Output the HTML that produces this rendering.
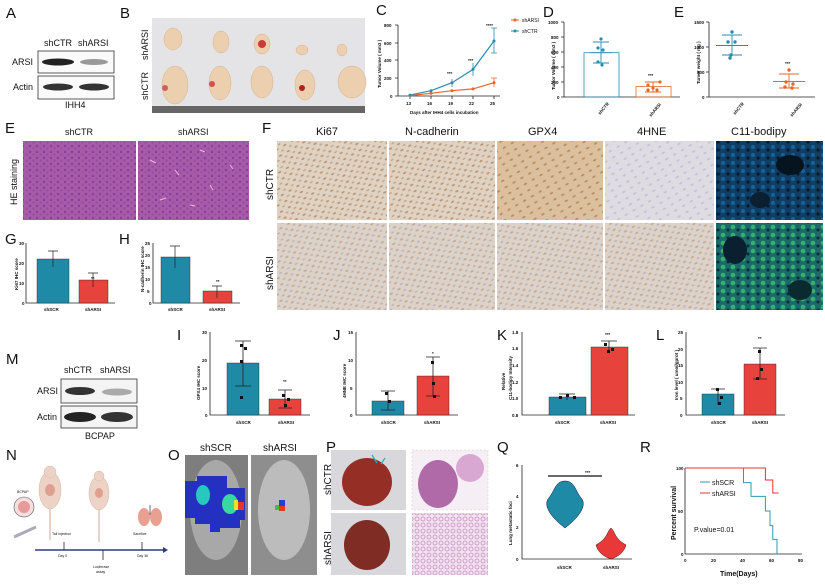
<!DOCTYPE html>
<html><head><meta charset="utf-8"><style>
html,body{margin:0;padding:0;background:#fff}
svg{display:block}
text{font-family:"Liberation Sans",Arial,sans-serif;fill:#111}
.L{font-size:15px}
.t{font-size:9px}
.s{font-size:4.5px;font-weight:bold}
.a{stroke:#222;stroke-width:0.8;fill:none}
</style></head><body>
<svg width="825" height="588" viewBox="0 0 825 588" xmlns="http://www.w3.org/2000/svg">
<defs>
<pattern id="he" width="7" height="6" patternUnits="userSpaceOnUse">
<rect width="7" height="6" fill="#a65aa8"/><circle cx="2" cy="2" r="1.2" fill="#84409a"/><circle cx="5.5" cy="4.5" r="1" fill="#8e4a9c"/></pattern>
<pattern id="ihc" width="9" height="7" patternUnits="userSpaceOnUse" patternTransform="rotate(-30)">
<rect width="9" height="7" fill="#e0d2c2"/><ellipse cx="3" cy="2" rx="1.8" ry="0.9" fill="#b89272"/><ellipse cx="7.5" cy="5.5" rx="1.6" ry="0.8" fill="#c2a286"/></pattern>
<pattern id="ihc2" width="9" height="7" patternUnits="userSpaceOnUse" patternTransform="rotate(-30)">
<rect width="9" height="7" fill="#ddd2c8"/><ellipse cx="3" cy="2" rx="1.8" ry="0.9" fill="#c0a892"/><ellipse cx="7.5" cy="5.5" rx="1.6" ry="0.8" fill="#b8b0c4"/></pattern>
<pattern id="gpx" width="9" height="7" patternUnits="userSpaceOnUse" patternTransform="rotate(-30)">
<rect width="9" height="7" fill="#dcbf9c"/><ellipse cx="3" cy="2" rx="1.8" ry="0.9" fill="#b48a60"/></pattern>
<pattern id="hne" width="9" height="7" patternUnits="userSpaceOnUse" patternTransform="rotate(-30)">
<rect width="9" height="7" fill="#dedbe2"/><ellipse cx="3" cy="2" rx="1.8" ry="0.9" fill="#c4c0d4"/></pattern>
<pattern id="c11" width="10" height="8" patternUnits="userSpaceOnUse">
<rect width="10" height="8" fill="#0f3f66"/><circle cx="3" cy="3" r="2" fill="#1a6296"/><circle cx="8" cy="6" r="1.6" fill="#07182a"/></pattern>
<pattern id="c11b" width="10" height="8" patternUnits="userSpaceOnUse">
<rect width="10" height="8" fill="#1a6a6a"/><circle cx="3" cy="3" r="2.3" fill="#36b06a"/><circle cx="8" cy="6" r="1.5" fill="#0a2a3a"/></pattern>
<pattern id="lungh" width="6" height="6" patternUnits="userSpaceOnUse">
<rect width="6" height="6" fill="#f1e2ee"/><circle cx="3" cy="3" r="2" fill="none" stroke="#c890c4" stroke-width="0.8"/></pattern>
</defs>

<!-- A -->
<text class="L" x="6" y="18">A</text>
<text class="t" x="44" y="46">shCTR</text><text class="t" x="78" y="46">shARSI</text>
<rect x="38" y="51" width="76" height="22" fill="#fafafa" stroke="#333" stroke-width="0.8"/>
<rect x="38" y="76" width="76" height="23" fill="#fafafa" stroke="#333" stroke-width="0.8"/>
<ellipse cx="58" cy="62" rx="16" ry="3.5" fill="#222"/><ellipse cx="94" cy="62" rx="14" ry="3" fill="#999"/>
<ellipse cx="58" cy="87" rx="15" ry="3.5" fill="#333"/><ellipse cx="94" cy="87" rx="15" ry="3.5" fill="#333"/>
<text class="t" x="12" y="65">ARSI</text><text class="t" x="13" y="90">Actin</text>
<text class="t" x="65" y="108">IHH4</text>

<!-- B -->
<text class="L" x="120" y="18">B</text>
<rect x="152" y="18" width="213" height="95" fill="#e4e4e7"/>
<rect x="152" y="106" width="213" height="7" fill="#666"/>
<g fill="#eccfae" stroke="#d8b08a" stroke-width="0.5">
<ellipse cx="173" cy="39" rx="9" ry="11"/><ellipse cx="221" cy="42" rx="8" ry="11"/><ellipse cx="262" cy="44" rx="8" ry="10"/><ellipse cx="302" cy="50" rx="6" ry="5"/><ellipse cx="342" cy="50" rx="5" ry="6"/>
<ellipse cx="175" cy="85" rx="13" ry="19"/><ellipse cx="220" cy="83" rx="11" ry="17"/><ellipse cx="262" cy="82" rx="11" ry="16"/><ellipse cx="305" cy="85" rx="10" ry="15"/><ellipse cx="352" cy="82" rx="14" ry="16"/></g>
<circle cx="262" cy="44" r="4" fill="#c93a3a"/><circle cx="302" cy="88" r="3" fill="#b02020"/><circle cx="212" cy="84" r="3" fill="#d65050"/><circle cx="165" cy="88" r="3" fill="#d06060"/>
<text class="t" transform="translate(148,60) rotate(-90)">shARSI</text>
<text class="t" transform="translate(148,100) rotate(-90)">shCTR</text>

<!-- C -->
<text class="L" x="376" y="15">C</text>
<path class="a" d="M398,25V96H500"/>
<g class="a"><path d="M395,25h3M395,43h3M395,60h3M395,78h3M395,96h3M410,96v3M431,96v3M452,96v3M473,96v3M494,96v3"/></g>
<g class="s"><text x="384" y="27">800</text><text x="384" y="45">600</text><text x="384" y="62">400</text><text x="384" y="80">200</text><text x="390" y="98">0</text>
<text x="406" y="105">13</text><text x="427" y="105">16</text><text x="448" y="105">19</text><text x="469" y="105">22</text><text x="490" y="105">25</text>
<text x="410" y="114">Days after IHH4 cells incubation</text>
<text transform="translate(381,88) rotate(-90)">Tumor Volume ( mm3 )</text>
<text x="447" y="75">***</text><text x="468" y="62">***</text><text x="486" y="27">****</text></g>
<polyline points="410,95.1 431,90.7 452,82.7 473,69.4 494,41" fill="none" stroke="#2a8bb0" stroke-width="1.2"/>
<polyline points="410,95.6 431,93.3 452,90.7 473,88.9 494,82.7" fill="none" stroke="#e8662a" stroke-width="1.2"/>
<g stroke="#2a8bb0" stroke-width="0.8"><path d="M452,79v8M473,63v13M494,28v25M491,28h6M491,53h6"/></g>
<g stroke="#e8662a" stroke-width="0.8"><path d="M494,78v9M491,78h6"/></g>
<g fill="#2a8bb0"><circle cx="410" cy="95.1" r="1.5"/><circle cx="431" cy="90.7" r="1.5"/><circle cx="452" cy="82.7" r="1.5"/><circle cx="473" cy="69.4" r="1.5"/><circle cx="494" cy="41" r="1.5"/></g>
<g fill="#e8662a"><circle cx="431" cy="93.3" r="1.5"/><circle cx="452" cy="90.7" r="1.5"/><circle cx="473" cy="88.9" r="1.5"/><circle cx="494" cy="82.7" r="1.5"/></g>
<path d="M511,20h8" stroke="#e8662a" stroke-width="1"/><circle cx="515" cy="20" r="1.5" fill="#e8662a"/>
<path d="M511,31h8" stroke="#2a8bb0" stroke-width="1"/><circle cx="515" cy="31" r="1.5" fill="#2a8bb0"/>
<text class="s" x="522" y="22" style="font-weight:normal;font-size:5px">shARSI</text><text class="s" x="522" y="33" style="font-weight:normal;font-size:5px">shCTR</text>

<!-- D -->
<text class="L" x="543" y="17">D</text>
<path class="a" d="M564,22V97H680"/>
<g class="a"><path d="M561,22h3M561,37h3M561,52h3M561,67h3M561,82h3M561,97h3"/></g>
<g class="s"><text x="548" y="24">1000</text><text x="551" y="39">800</text><text x="551" y="54">600</text><text x="551" y="69">400</text><text x="551" y="84">200</text><text x="557" y="99">0</text>
<text transform="translate(555,90) rotate(-90)">Tumor Volume ( mm3 )</text>
<text transform="translate(600,115) rotate(-50)">shCTR</text><text transform="translate(651,117) rotate(-50)">shARSI</text>
<text x="648" y="77">***</text></g>
<rect x="584" y="52.7" width="35" height="44.3" fill="none" stroke="#2a8bb0" stroke-width="0.8"/>
<rect x="636" y="86.5" width="35" height="10.5" fill="none" stroke="#e8662a" stroke-width="0.8"/>
<g stroke="#2a8bb0" stroke-width="0.9"><path d="M601,42v21M593,42h16M593,63h16M590,52.7h22"/></g>
<g fill="#2a8bb0"><circle cx="601" cy="39" r="1.6"/><circle cx="598" cy="48" r="1.6"/><circle cx="603" cy="50" r="1.6"/><circle cx="598" cy="62" r="1.6"/><circle cx="602" cy="65" r="1.6"/></g>
<g stroke="#e8662a" stroke-width="0.9"><path d="M653,82v10M645,82h16M645,92h16"/></g>
<g fill="#e8662a"><circle cx="660" cy="82" r="1.6"/><circle cx="648" cy="85" r="1.6"/><circle cx="653" cy="88" r="1.6"/><circle cx="657" cy="90" r="1.6"/><circle cx="648" cy="90" r="1.6"/></g>

<!-- E weight -->
<text class="L" x="674" y="17">E</text>
<path class="a" d="M709,22V97H815"/>
<g class="a"><path d="M706,22h3M706,47h3M706,72h3M706,97h3"/></g>
<g class="s"><text x="694" y="24">1500</text><text x="694" y="49">1000</text><text x="697" y="74">500</text><text x="702" y="99">0</text>
<text transform="translate(700,84) rotate(-90)">Tumor weight ( mg )</text>
<text transform="translate(735,115) rotate(-50)">shCTR</text><text transform="translate(792,117) rotate(-50)">shARSI</text>
<text x="785" y="65">***</text></g>
<g stroke="#2a8bb0" stroke-width="0.9"><path d="M732,35v20M722,35h20M722,55h20M716,45.5h32"/></g>
<g fill="#2a8bb0"><circle cx="732" cy="32" r="1.7"/><circle cx="728" cy="42" r="1.7"/><circle cx="735" cy="42" r="1.7"/><circle cx="731" cy="55" r="1.7"/><circle cx="730" cy="58" r="1.7"/></g>
<g stroke="#e8662a" stroke-width="0.9"><path d="M789,74v14M779,74h20M779,88h20M773,81.5h32"/></g>
<g fill="#e8662a"><circle cx="789" cy="70" r="1.7"/><circle cx="786" cy="82" r="1.7"/><circle cx="793" cy="84" r="1.7"/><circle cx="785" cy="87" r="1.7"/><circle cx="792" cy="88" r="1.7"/></g>

<!-- E HE -->
<text class="L" x="5" y="133">E</text>
<text class="t" x="65" y="135">shCTR</text><text class="t" x="178" y="135">shARSI</text>
<rect x="23" y="141" width="113" height="79" fill="url(#he)"/>
<rect x="138" y="141" width="111" height="79" fill="url(#he)"/>
<g stroke="#f2b8d8" stroke-width="1" fill="none"><path d="M150,160l6,3M175,170l4,5M200,150l5,2M210,185l3,5M160,200l6,-2M230,165l3,4M190,205l5,1"/></g>
<text class="t" transform="translate(17,205) rotate(-90)">HE staining</text>

<!-- F -->
<text class="L" x="262" y="133">F</text>
<g class="t" style="font-size:11px"><text x="316" y="135">Ki67</text><text x="405" y="135">N-cadherin</text><text x="528" y="135">GPX4</text><text x="637" y="135">4HNE</text><text x="731" y="135">C11-bodipy</text></g>
<rect x="277" y="141" width="110" height="79" fill="url(#ihc)"/>
<rect x="389" y="141" width="106" height="79" fill="url(#ihc)"/>
<rect x="497" y="141" width="106" height="79" fill="url(#gpx)"/>
<rect x="605" y="141" width="109" height="79" fill="url(#hne)"/>
<rect x="716" y="141" width="107" height="79" fill="url(#c11)"/>
<ellipse cx="790" cy="165" rx="14" ry="10" fill="#061420"/><ellipse cx="760" cy="200" rx="10" ry="8" fill="#0a2030"/>
<rect x="277" y="223" width="110" height="87" fill="url(#ihc2)"/>
<rect x="389" y="223" width="106" height="87" fill="url(#ihc2)"/>
<rect x="497" y="223" width="106" height="87" fill="url(#ihc2)"/>
<rect x="605" y="223" width="109" height="87" fill="url(#ihc2)"/>
<rect x="716" y="223" width="107" height="87" fill="url(#c11b)"/>
<ellipse cx="735" cy="250" rx="12" ry="14" fill="#0a2030"/><ellipse cx="800" cy="290" rx="12" ry="10" fill="#0a2a30"/>
<text class="t" style="font-size:10px" transform="translate(273,200) rotate(-90)">shCTR</text>
<text class="t" style="font-size:10px" transform="translate(273,290) rotate(-90)">shARSI</text>

<!-- G -->
<text class="L" x="5" y="244">G</text>
<path class="a" d="M26,243V303H115"/>
<g class="s"><text x="19" y="245">30</text><text x="19" y="265">20</text><text x="19" y="285">10</text><text x="22" y="305">0</text>
<text x="44" y="311">shSCR</text><text x="85" y="311">shARSI</text>
<text transform="translate(18,290) rotate(-90)">Ki67 IHC score</text><text x="91" y="280">**</text></g>
<rect x="37" y="259" width="32" height="44" fill="#1f8aa5" stroke="#222" stroke-width="0.4"/>
<rect x="79" y="280" width="29" height="23" fill="#e8423c" stroke="#222" stroke-width="0.4"/>
<path d="M53,251v16M48,251h10M93,273v14M88,273h10" stroke="#222" stroke-width="0.7"/>

<!-- H -->
<text class="L" x="119" y="244">H</text>
<path class="a" d="M153,243V303H240"/>
<g class="s"><text x="145" y="245">25</text><text x="145" y="257">20</text><text x="145" y="269">15</text><text x="145" y="281">10</text><text x="147" y="293">5</text><text x="149" y="305">0</text>
<text x="168" y="311">shSCR</text><text x="209" y="311">shARSI</text>
<text transform="translate(144,292) rotate(-90)">N-cadherin IHC score</text><text x="216" y="283">**</text></g>
<rect x="161" y="257" width="29" height="46" fill="#1f8aa5" stroke="#222" stroke-width="0.4"/>
<rect x="203" y="291" width="29" height="12" fill="#e8423c" stroke="#222" stroke-width="0.4"/>
<path d="M175,246v22M170,246h10M217,286v12M212,286h10" stroke="#222" stroke-width="0.7"/>

<!-- M -->
<text class="L" x="6" y="364">M</text>
<text class="t" x="64" y="373">shCTR</text><text class="t" x="100" y="373">shARSI</text>
<rect x="61" y="379" width="76" height="24" fill="#f4f4f4" stroke="#333" stroke-width="0.8"/>
<rect x="61" y="406" width="76" height="22" fill="#f4f4f4" stroke="#333" stroke-width="0.8"/>
<ellipse cx="80" cy="391" rx="15" ry="4" fill="#333"/><ellipse cx="117" cy="392" rx="15" ry="3.5" fill="#aaa"/>
<ellipse cx="80" cy="417" rx="16" ry="5" fill="#222"/><ellipse cx="117" cy="417" rx="16" ry="5" fill="#333"/>
<text class="t" x="37" y="394">ARSI</text><text class="t" x="37" y="420">Actin</text>
<text class="t" x="85" y="439">BCPAP</text>

<!-- I -->
<text class="L" x="177" y="340">I</text>
<path class="a" d="M210,332V415H310"/>
<g class="s"><text x="202" y="334">30</text><text x="202" y="362">20</text><text x="202" y="390">10</text><text x="205" y="417">0</text>
<text x="236" y="424">shSCR</text><text x="278" y="424">shARSI</text>
<text transform="translate(200,400) rotate(-90)">GPX4 IHC score</text><text x="283" y="383">**</text></g>
<rect x="227" y="363" width="32" height="52" fill="#1f8aa5" stroke="#222" stroke-width="0.4"/>
<rect x="269" y="399" width="32" height="16" fill="#e8423c" stroke="#222" stroke-width="0.4"/>
<path d="M243,341v45M235,341h16M235,386h16M285,390v18M278,390h14M278,408h14" stroke="#222" stroke-width="0.8"/>
<g fill="#111"><rect x="240" y="344" width="3" height="3"/><rect x="244" y="347" width="3" height="3"/><rect x="240" y="360" width="3" height="3"/><rect x="240" y="396" width="3" height="3"/><rect x="282" y="394" width="3" height="3"/><rect x="287" y="398" width="3" height="3"/><rect x="284" y="404" width="3" height="3"/></g>

<!-- J -->
<text class="L" x="333" y="340">J</text>
<path class="a" d="M356,332V415H458"/>
<g class="s"><text x="348" y="334">15</text><text x="348" y="362">10</text><text x="350" y="390">5</text><text x="350" y="417">0</text>
<text x="381" y="424">shSCR</text><text x="424" y="424">shARSI</text>
<text transform="translate(346,398) rotate(-90)">4HNE IHC score</text><text x="432" y="355">*</text></g>
<rect x="372" y="401" width="32" height="14" fill="#1f8aa5" stroke="#222" stroke-width="0.4"/>
<rect x="417" y="376" width="32" height="39" fill="#e8423c" stroke="#222" stroke-width="0.4"/>
<path d="M388,391v19M381,391h14M381,410h14M433,357v39M426,357h14M426,396h14" stroke="#222" stroke-width="0.8"/>
<g fill="#111"><rect x="385" y="392" width="3" height="3"/><rect x="388" y="400" width="3" height="3"/><rect x="431" y="361" width="3" height="3"/><rect x="432" y="382" width="3" height="3"/><rect x="433" y="395" width="3" height="3"/></g>

<!-- K -->
<text class="L" x="497" y="340">K</text>
<path class="a" d="M522,332V415H635"/>
<g class="s"><text x="512" y="334">1.8</text><text x="512" y="350">1.6</text><text x="512" y="367">1.4</text><text x="512" y="384">1.2</text><text x="512" y="400">1.0</text><text x="512" y="417">0.8</text>
<text x="555" y="424">shSCR</text><text x="600" y="424">shARSI</text>
<text transform="translate(505,390) rotate(-90)">Relative</text><text transform="translate(512,400) rotate(-90)">C11-bodipy Intensity</text><text x="605" y="336">***</text></g>
<rect x="549" y="397" width="37" height="18" fill="#1f8aa5" stroke="#222" stroke-width="0.4"/>
<rect x="591" y="347" width="37" height="68" fill="#e8423c" stroke="#222" stroke-width="0.4"/>
<path d="M567,394v6M559,394h16M609,341v11M601,341h16" stroke="#222" stroke-width="0.8"/>
<g fill="#111"><rect x="559" y="396" width="3" height="3"/><rect x="566" y="394" width="3" height="3"/><rect x="573" y="396" width="3" height="3"/><rect x="604" y="343" width="3" height="3"/><rect x="611" y="348" width="3" height="3"/><rect x="607" y="350" width="3" height="3"/></g>

<!-- L -->
<text class="L" x="656" y="340">L</text>
<path class="a" d="M686,332V415H785"/>
<g class="s"><text x="678" y="334">25</text><text x="678" y="351">20</text><text x="678" y="367">15</text><text x="678" y="384">10</text><text x="680" y="400">5</text><text x="680" y="417">0</text>
<text x="711" y="424">shSCR</text><text x="752" y="424">shARSI</text>
<text transform="translate(678,400) rotate(-90)">Iron level ( umol/gprot )</text><text x="758" y="340">**</text></g>
<rect x="702" y="394" width="32" height="21" fill="#1f8aa5" stroke="#222" stroke-width="0.4"/>
<rect x="744" y="364" width="32" height="51" fill="#e8423c" stroke="#222" stroke-width="0.4"/>
<path d="M718,389v16M711,389h14M760,348v31M753,348h14M753,379h14" stroke="#222" stroke-width="0.8"/>
<g fill="#111"><rect x="716" y="388" width="3" height="3"/><rect x="720" y="396" width="3" height="3"/><rect x="718" y="402" width="3" height="3"/><rect x="758" y="350" width="3" height="3"/><rect x="760" y="368" width="3" height="3"/><rect x="756" y="377" width="3" height="3"/></g>

<!-- N -->
<text class="L" x="6" y="460">N</text>
<g fill="#edd2c6" stroke="#d8b5a8" stroke-width="0.5">
<ellipse cx="50" cy="490" rx="11" ry="19"/><ellipse cx="50" cy="472" rx="6" ry="6"/>
<ellipse cx="99" cy="493" rx="10" ry="17"/><ellipse cx="99" cy="476" rx="5" ry="5"/></g>
<path d="M50,509v31M99,510v32" stroke="#d8b5a8" stroke-width="1.2"/>
<ellipse cx="50" cy="490" rx="5" ry="6" fill="#e0a090"/><ellipse cx="99" cy="493" rx="4" ry="5" fill="#e0a090"/>
<circle cx="24" cy="507" r="10" fill="#f7dede" stroke="#555" stroke-width="0.6"/><circle cx="24" cy="507" r="6" fill="#e89a9a"/>
<text x="17" y="493" style="font-size:3.5px">BCPAP</text>
<path d="M14,537l22,-10" stroke="#aab" stroke-width="3"/>
<ellipse cx="144" cy="517" rx="6" ry="9" fill="#e9a090"/><ellipse cx="156" cy="517" rx="6" ry="9" fill="#e9a090"/>
<path d="M150,505v10" stroke="#446" stroke-width="0.8"/>
<path d="M35,550H163" stroke="#2c3e7a" stroke-width="1.5"/><path d="M163,547l5,3l-5,3z" fill="#2c3e7a"/>
<path d="M64,542v8M103,550v10M142,542v8" stroke="#223" stroke-width="0.8"/>
<g style="font-size:3.5px"><text x="52" y="535">Tail injection</text><text x="133" y="535">Sacrifice</text><text x="58" y="557">Day 0</text><text x="137" y="557">Day 36</text><text x="93" y="568">Luciferase</text><text x="96" y="573">assay</text></g>

<!-- O -->
<text class="L" x="168" y="460">O</text>
<text class="t" style="font-size:10px" x="200" y="451">shSCR</text><text class="t" style="font-size:10px" x="263" y="451">shARSI</text>
<rect x="185" y="455" width="63" height="120" fill="#7e7e7e"/>
<rect x="251" y="455" width="66" height="120" fill="#8e8e8e"/>
<ellipse cx="216" cy="510" rx="26" ry="50" fill="#a8a8a8"/><ellipse cx="284" cy="510" rx="26" ry="50" fill="#bcbcbc"/>
<path d="M185,481h12v-5h30v12h18v32h-5v8h-20v4h-10v-8h-15v-6h-10z" fill="#2430c0"/>
<ellipse cx="203" cy="495" rx="7" ry="10" fill="#28c8c0"/><ellipse cx="230" cy="504" rx="8" ry="10" fill="#38d8a0"/>
<rect x="238" y="502" width="6" height="8" fill="#e83820"/><rect x="234" y="500" width="4" height="10" fill="#f0e020"/>
<rect x="279" y="500" width="6" height="6" fill="#2040d0"/><rect x="279" y="506" width="6" height="5" fill="#e83820"/><rect x="275" y="505" width="4" height="5" fill="#40c040"/>

<!-- P -->
<text class="L" x="326" y="452">P</text>
<rect x="331" y="450" width="75" height="60" fill="#d8d8dc"/>
<rect x="331" y="513" width="75" height="62" fill="#d8d8dc"/>
<ellipse cx="367" cy="482" rx="25" ry="24" fill="#952e24"/><ellipse cx="367" cy="545" rx="23" ry="25" fill="#7e2c24"/>
<path d="M372,455l5,8M385,458l-4,6" stroke="#2ab0c0" stroke-width="1.3"/>
<rect x="412" y="450" width="76" height="60" fill="#f6eef5" stroke="#ccc" stroke-dasharray="2,2" stroke-width="0.5"/>
<ellipse cx="438" cy="484" rx="20" ry="24" fill="#b06aa8"/><ellipse cx="470" cy="468" rx="14" ry="14" fill="#d9a8d2"/>
<rect x="412" y="513" width="76" height="62" fill="url(#lungh)"/>
<text class="t" style="font-size:10px" transform="translate(331,495) rotate(-90)">shCTR</text>
<text class="t" style="font-size:10px" transform="translate(331,565) rotate(-90)">shARSI</text>

<!-- Q -->
<text class="L" x="497" y="452">Q</text>
<path class="a" d="M522,465V559H632"/>
<g class="s"><text x="516" y="467">6</text><text x="516" y="498">4</text><text x="516" y="529">2</text><text x="516" y="561">0</text>
<text x="557" y="569">shSCR</text><text x="603" y="569">shARSI</text>
<text transform="translate(512,545) rotate(-90)">Lung metastatic foci</text><text x="585" y="474">***</text></g>
<path d="M548,476H602" stroke="#111" stroke-width="1.2"/>
<path d="M565,481c10,0 10,10 17,18c5,8 -5,20 -17,29c-12,-9 -22,-21 -17,-29c7,-8 7,-18 17,-18z" fill="#1f8aa5" stroke="#114" stroke-width="0.5"/>
<path d="M611,528c5,5 3,10 15,17c-2,8 -9,12 -15,14c-6,-2 -13,-6 -15,-14c12,-7 10,-12 15,-17z" fill="#e83838" stroke="#411" stroke-width="0.5"/>

<!-- R -->
<text class="L" x="640" y="452">R</text>
<path class="a" d="M685,468V554H802"/>
<g class="s"><text x="676" y="470">100</text><text x="678" y="513">50</text><text x="681" y="556">0</text>
<text x="684" y="562">0</text><text x="711" y="562">20</text><text x="740" y="562">40</text><text x="769" y="562">60</text><text x="798" y="562">80</text>
<text transform="translate(676,540) rotate(-90)" style="font-size:7px">Percent survival</text></g>
<text x="720" y="576" style="font-size:7px;font-weight:bold">Time(Days)</text>
<path d="M685,468H743.5V482.6H751V496.4H765.4V511H770V525.6H772.8V539.4H777V554" fill="none" stroke="#2a9bb0" stroke-width="1"/>
<path d="M685,468H765.4V480H772.8V493H778.6" fill="none" stroke="#e83030" stroke-width="1"/>
<path d="M700,482h10" stroke="#2a9bb0" stroke-width="1"/><path d="M700,493h10" stroke="#e83030" stroke-width="1"/>
<text x="712" y="485" style="font-size:7px">shSCR</text><text x="712" y="496" style="font-size:7px">shARSI</text>
<text x="694" y="532" style="font-size:7px">P.value=0.01</text>
</svg>
</body></html>
